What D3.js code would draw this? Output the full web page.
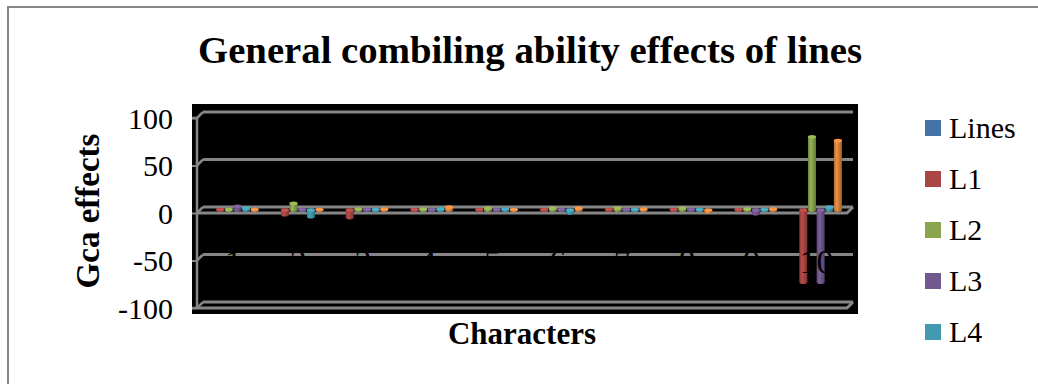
<!DOCTYPE html>
<html><head><meta charset="utf-8">
<script src="https://cdn.jsdelivr.net/npm/d3@7"></script>
<style>html,body{margin:0;padding:0;background:#fff;}svg{display:block;}</style>
</head><body>
<svg id="c" width="1038" height="384"></svg>
<script>
const categories = ["1","2","3","4","5","6","7","8","9","10"];
const seriesNames = ["Lines","L1","L2","L3","L4","L5"];
const seriesColors = ["#4572A7","#AA4643","#89A54E","#71588F","#4198AF","#DB843D"];
const lines = [null,null,null,null,null,null,null,null,null,null];
const L1 = [0.5,-5,-8,0.5,0.5,0.5,0.5,0.5,0.5,-76];
const L2 = [0.5,7,1,1,2,2,2,2,1,77];
const L3 = [4,0.5,0.5,0.5,0.5,0.5,0.5,0.5,-4,-76];
const L4 = [2,-7,0.5,1,1,-3,0.5,0.5,0.5,3];
const L5 = [0.5,0.5,1,3,0.5,2,1,-2,1,73];
const yTicks = [-100,-50,0,50,100];
const legendItems = ["Lines","L1","L2","L3","L4"];

const seriesValues = [lines,L1,L2,L3,L4,L5];
const svg = d3.select("#c");
const FONT = "'Liberation Serif','Times New Roman',serif";

// outer border
svg.append("rect").attr("x",8).attr("y",7).attr("width",1040).attr("height",400)
  .attr("fill","#fff").attr("stroke","#868686").attr("stroke-width",2);

// title
svg.append("text").attr("x",198).attr("y",63).attr("font-family",FONT)
  .attr("font-weight","bold").attr("font-size",38)
  .attr("textLength",664).attr("lengthAdjust","spacingAndGlyphs")
  .text("General  combiling ability effects of lines");

// plot background
svg.append("rect").attr("x",192).attr("y",104).attr("width",666).attr("height",210).attr("fill","#000");

const y = d3.scaleLinear().domain([-100,100]).range([308,118]);
const dx = 6, dy = 6;
const xL = 197, xR = 847;
const grid = "#868686";

// back wall gridlines
svg.append("g").selectAll("line").data(yTicks).join("line")
  .attr("x1",xL+dx).attr("x2",xR+dx).attr("y1",d=>y(d)-dy).attr("y2",d=>y(d)-dy)
  .attr("stroke",grid).attr("stroke-width",3);
// left connectors
svg.append("g").selectAll("line").data(yTicks).join("line")
  .attr("x1",xL).attr("x2",xL+dx).attr("y1",d=>y(d)).attr("y2",d=>y(d)-dy)
  .attr("stroke",grid).attr("stroke-width",2.5);
// floor front edges (0 and -100)
svg.append("g").selectAll("path").data([0,-100]).join("path")
  .attr("d",d=>`M${xL},${y(d)}L${xR},${y(d)}L${xR+dx},${y(d)-dy}`)
  .attr("fill","none").attr("stroke",grid).attr("stroke-width",3);

// y axis
const yAxis = d3.axisLeft(y).tickValues(yTicks).tickSize(5).tickFormat(d=>String(d));
const ya = svg.append("g").attr("transform",`translate(${xL},0)`).call(yAxis);
ya.select(".domain").attr("stroke",grid).attr("stroke-width",2.5).attr("d",`M-5,${y(100)}H0V${y(-100)}H-5`);
ya.selectAll(".tick line").attr("stroke",grid).attr("stroke-width",2);
ya.selectAll(".tick text").attr("font-family",FONT).attr("font-size",30).attr("fill","#000")
  .attr("x",-24).attr("dy","0.34em");

// bars
const x0 = d3.scaleBand().domain(categories).range([201,849]).paddingInner(0.2).paddingOuter(0.1);
const x1 = d3.scaleBand().domain(seriesNames).range([0,x0.bandwidth()]);
const defs = svg.append("defs");
seriesNames.forEach((s,i)=>{
  const c = d3.color(seriesColors[i]);
  const g = defs.append("linearGradient").attr("id","g"+i).attr("x1","0").attr("x2","1").attr("y1","0").attr("y2","0");
  g.append("stop").attr("offset","0").attr("stop-color",c.darker(0.6));
  g.append("stop").attr("offset","0.35").attr("stop-color",c.brighter(0.25));
  g.append("stop").attr("offset","1").attr("stop-color",c.darker(0.9));
});
const off = 3;
const bars = [];
seriesNames.forEach((s,i)=>{
  seriesValues[i].forEach((v,j)=>{ if(v!==null) bars.push({s,i,v,c:categories[j]}); });
});
const bg = svg.append("g");
bars.forEach(b=>{
  const bx = x0(b.c)+x1(b.s), w = x1.bandwidth()-0.6;
  const base = y(0)-off, end = y(b.v)-off;
  const top = Math.min(base,end), h = Math.abs(base-end);
  const col = d3.color(seriesColors[b.i]);
  const gb = bg.append("g");
  gb.append("rect").attr("x",bx).attr("y",top).attr("width",w).attr("height",h).attr("fill",`url(#g${b.i})`);
  if(b.v<0){
    gb.append("ellipse").attr("cx",bx+w/2).attr("cy",end).attr("rx",w/2).attr("ry",1.8).attr("fill",`url(#g${b.i})`);
    gb.append("ellipse").attr("cx",bx+w/2).attr("cy",base).attr("rx",w/2).attr("ry",1.8).attr("fill",col.brighter(0.4));
  } else {
    gb.append("ellipse").attr("cx",bx+w/2).attr("cy",base).attr("rx",w/2).attr("ry",1.8).attr("fill",`url(#g${b.i})`);
    gb.append("ellipse").attr("cx",bx+w/2).attr("cy",end).attr("rx",w/2).attr("ry",1.8).attr("fill",col.brighter(0.4));
  }
});

// category labels (black on black, visible only over lines/bars)
svg.append("g").selectAll("text").data(categories).join("text")
  .attr("x",d=>x0(d)+x0.bandwidth()/2).attr("y",y(-50)+12)
  .attr("text-anchor","middle").attr("font-family",FONT).attr("font-size",34)
  .attr("fill","#000").text(d=>d);

// axis titles
svg.append("text").attr("x",522).attr("y",344).attr("text-anchor","middle")
  .attr("font-family",FONT).attr("font-weight","bold").attr("font-size",31).text("Characters");
svg.append("text").attr("transform","translate(99,211) rotate(-90)").attr("text-anchor","middle")
  .attr("font-family",FONT).attr("font-weight","bold").attr("font-size",33).text("Gca effects");

// legend
const lg = svg.append("g").selectAll("g").data(legendItems).join("g")
  .attr("transform",(d,i)=>`translate(925,${128+i*51})`);
lg.append("rect").attr("x",0).attr("y",-8).attr("width",16).attr("height",16)
  .attr("fill",(d,i)=>seriesColors[i]);
lg.append("text").attr("x",24).attr("y",10).attr("font-family",FONT).attr("font-size",30).text(d=>d);
</script>
</body></html>
